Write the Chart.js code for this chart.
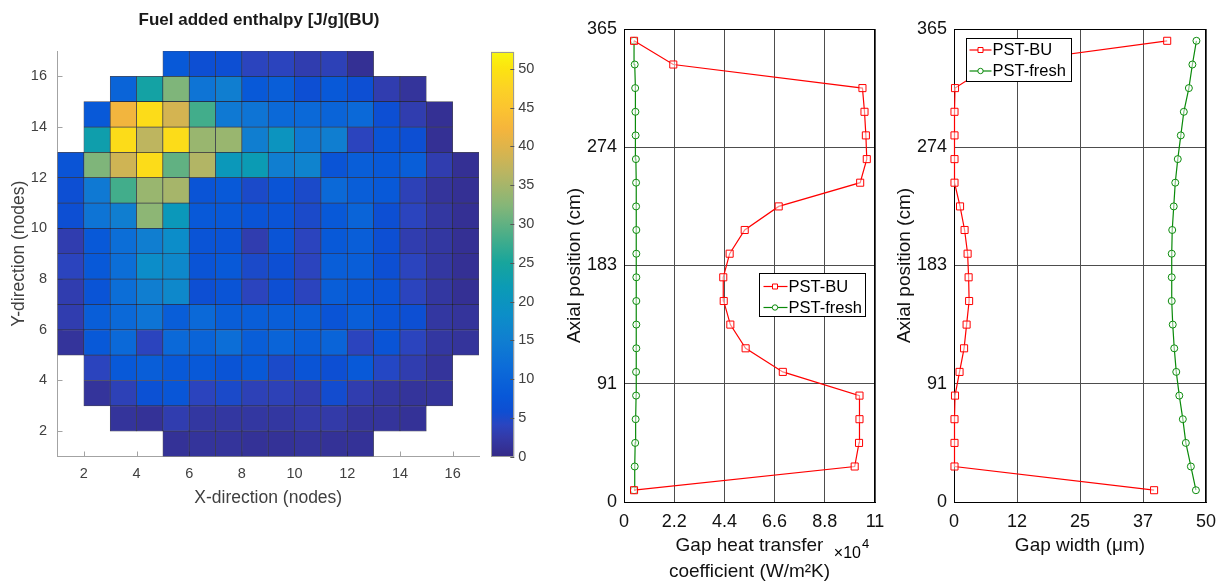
<!DOCTYPE html>
<html><head><meta charset="utf-8">
<script src="https://cdn.jsdelivr.net/npm/chart.js@4/dist/chart.umd.min.js"></script>
<style>
html,body{margin:0;padding:0;background:#fff;width:1226px;height:588px;overflow:hidden;}
canvas{position:absolute;top:0;}
</style></head><body>
<canvas id="heat" width="518" height="588" style="left:0px"></canvas>
<canvas id="cbar" width="65" height="588" style="left:485px"></canvas>
<canvas id="htc" width="340" height="588" style="left:555px"></canvas>
<canvas id="gap" width="341" height="588" style="left:885px"></canvas>
<script>
const FONT = "'Liberation Sans', Arial, Helvetica, sans-serif";

// ---- Heat map: fuel added enthalpy [J/g], rows y=16 (top) .. y=1 (bottom), columns x=1..16
const row16 = [null,null,null,null,8,6,6,4,4,3,3.5,1,null,null,null,null];
const row15 = [null,null,10,24,32,13,15,8,9,6,8,6,3,1.5,null,null];
const row14 = [null,8,42,49,39,28,14,13,11,11,10,11,6,3,1,null];
const row13 = [null,23,49,37,49,34,34,15,20,14,15,4,7,6,1,null];
const row12 = [7,32,38.5,49,30,36,21,22,15,16,7,9,8,9,3,1];
const row11 = [6,14,28,34,35,7,8,5,7,5,11,9,8,3.5,1.5,1];
const row10 = [6,13,15,33,21,8,8,7,7,5,8,10,6,4,2,1];
const row9  = [3,8,12,15,18,7,7,3,7,4,8,9,6,3,2,1];
const row8  = [4,8,12,18,17,7,8,5,6,4,9,9,6,4,2,1];
const row7  = [3,7,12,15,17,6,7,4,6,4,9,8,7,4,2,1];
const row6  = [3,9,11,13,9,11,9,9,9,9,7,9,7,6,2,1.5];
const row5  = [1.5,8,11,4,11,10,12,9,10,9,10,4,7,4,2,1.5];
const row4  = [null,4,8,9,8,8,7,8,5,7,6,8,4.5,3,1.5,null];
const row3  = [null,1.5,3.5,6.5,7.5,4,5,3.5,3.5,3,5.5,3,2,1.5,1.5,null];
const row2  = [null,null,1.5,1.2,3,2,2,2,2,2.5,2.5,1.5,1.5,1.2,null,null];
const row1  = [null,null,null,null,1.2,1.5,1.5,1.2,1.2,1.5,1.2,1.2,null,null,null,null];
const heatRows = [row16,row15,row14,row13,row12,row11,row10,row9,row8,row7,row6,row5,row4,row3,row2,row1];
const heatRowY = [16,15,14,13,12,11,10,9,8,7,6,5,4,3,2,1];
const heatTicks = [2,4,6,8,10,12,14,16];
const cbTicks = [0,5,10,15,20,25,30,35,40,45,50];
const cbRange = [0, 52.2];

// ---- Axial profiles (20 axial nodes)
const axialPos = [9.1,27.4,45.6,63.9,82.1,100.4,118.6,136.9,155.1,173.4,191.6,209.9,228.1,246.4,264.6,282.9,301.1,319.4,337.6,355.9];
const htcBU    = [0.44,10.11,10.30,10.32,10.32,6.96,5.33,4.66,4.37,4.35,4.63,5.29,6.78,10.35,10.64,10.60,10.54,10.45,2.16,0.44];
const htcFresh = [0.44,0.47,0.49,0.51,0.53,0.53,0.54,0.54,0.54,0.54,0.54,0.54,0.53,0.53,0.52,0.51,0.50,0.49,0.47,0.44];
const gapBU    = [39.7,0.1,0.1,0.1,0.2,1.1,2.0,2.5,3.0,2.9,2.7,2.1,1.2,0.1,0.1,0.1,0.1,0.2,7.5,42.3];
const gapFresh = [48.0,47.0,46.0,45.4,44.7,44.1,43.7,43.4,43.2,43.2,43.2,43.3,43.6,43.9,44.4,45.0,45.6,46.6,47.3,48.1];
const axialTicks = [0,91.25,182.5,273.75,365];
const axialTickLabels = ['0','91','183','274','365'];
const htcTicks = [0,2.2,4.4,6.6,8.8,11];
const htcTickLabels = ['0','2.2','4.4','6.6','8.8','11'];
const gapTicks = [0,12.5,25,37.5,50];
const gapTickLabels = ['0','12','25','37','50'];

// ---- parula-like colormap (matched to the reference colour bar)
const parulaStops = [
 [0.000,'#352a87'],[0.048,'#333aa8'],[0.079,'#2a45c0'],[0.111,'#0e4ed2'],[0.150,'#0858d8'],
 [0.222,'#0c6cd8'],[0.290,'#107fd0'],[0.350,'#0c8ec8'],[0.420,'#0b9bb5'],[0.480,'#18a59c'],
 [0.540,'#45ad8a'],[0.620,'#85b678'],[0.700,'#b9b562'],[0.760,'#dcb44c'],[0.810,'#f5b53c'],
 [0.860,'#fbc430'],[0.910,'#fcd225'],[0.960,'#fce410'],[1.000,'#f9f80e']
];
function hexRgb(h){return [parseInt(h.slice(1,3),16),parseInt(h.slice(3,5),16),parseInt(h.slice(5,7),16)];}
function parula(t){
  t = Math.max(0, Math.min(1, t));
  for (let i = 1; i < parulaStops.length; i++) {
    if (t <= parulaStops[i][0]) {
      const [t0,c0] = parulaStops[i-1], [t1,c1] = parulaStops[i];
      const f = (t - t0) / (t1 - t0), a = hexRgb(c0), b = hexRgb(c1);
      return 'rgb(' + a.map((v,k)=>Math.round(v + (b[k]-v)*f)).join(',') + ')';
    }
  }
  return parulaStops[parulaStops.length-1][1];
}

// ---- plugins
const heatTickMarks = {
  id: 'heatTickMarks',
  beforeDatasetsDraw(chart) {
    const {ctx, chartArea: a, scales: {x, y}} = chart;
    ctx.save(); ctx.strokeStyle = '#a3a3a3'; ctx.lineWidth = 1; ctx.beginPath();
    heatTicks.forEach(v => { const px = Math.round(x.getPixelForValue(v)) + 0.5; ctx.moveTo(px, a.bottom); ctx.lineTo(px, a.bottom - 5); });
    heatTicks.forEach(v => { const py = Math.round(y.getPixelForValue(v)) + 0.5; ctx.moveTo(a.left, py); ctx.lineTo(a.left + 5, py); });
    ctx.stroke(); ctx.restore();
  }
};
const cbFrame = {
  id: 'cbFrame',
  afterDatasetsDraw(chart) {
    const {ctx, chartArea: a, scales: {y}} = chart;
    ctx.save(); ctx.strokeStyle = '#9a9a9a'; ctx.lineWidth = 1;
    ctx.strokeRect(Math.round(a.left) + 0.5, Math.round(a.top) + 0.5, Math.round(a.right - a.left) - 1, Math.round(a.bottom - a.top) - 1);
    ctx.strokeStyle = '#555'; ctx.beginPath();
    cbTicks.forEach(v => { const py = Math.round(y.getPixelForValue(v)) + 0.5; ctx.moveTo(a.right, py); ctx.lineTo(a.right - 4, py); });
    ctx.stroke(); ctx.restore();
  }
};
const boxFrame = {
  id: 'boxFrame',
  beforeDatasetsDraw(chart) {
    const {ctx, chartArea: a} = chart;
    ctx.save(); ctx.strokeStyle = '#000'; ctx.lineWidth = 1;
    ctx.strokeRect(Math.round(a.left) + 0.5, Math.round(a.top) + 0.5, Math.round(a.right - a.left) - 1, Math.round(a.bottom - a.top));
    ctx.restore();
  }
};
const boxLegend = {
  id: 'boxLegend',
  afterDraw(chart, args, o) {
    const {ctx, chartArea: a} = chart;
    const L = Math.round(a.left + o.dx) + 0.5, T = Math.round(a.top + o.dy) + 0.5;
    ctx.save();
    ctx.fillStyle = '#fff'; ctx.fillRect(L, T, o.w, o.h);
    ctx.strokeStyle = '#000'; ctx.lineWidth = 1; ctx.strokeRect(L, T, o.w, o.h);
    chart.data.datasets.forEach((ds, i) => {
      const cy = T + o.rows[i];
      ctx.strokeStyle = ds.borderColor; ctx.lineWidth = 1.2;
      ctx.beginPath(); ctx.moveTo(L + o.s0, cy); ctx.lineTo(L + o.s1, cy); ctx.stroke();
      ctx.fillStyle = '#fff'; ctx.lineWidth = 1; ctx.beginPath();
      if (ds.pointStyle === 'rect') { ctx.rect(L + o.m - 2.5, cy - 2.5, 5, 5); }
      else { ctx.arc(L + o.m, cy, 2.7, 0, Math.PI * 2); }
      ctx.fill(); ctx.stroke();
      ctx.fillStyle = '#000'; ctx.font = '16.5px ' + FONT; ctx.textAlign = 'left'; ctx.textBaseline = 'middle';
      ctx.fillText(ds.label, L + o.t, cy + 0.5);
    });
    ctx.restore();
  }
};
const expLabel = {
  id: 'expLabel',
  afterDraw(chart) {
    const {ctx, chartArea: a} = chart;
    ctx.save(); ctx.fillStyle = '#000'; ctx.textBaseline = 'alphabetic';
    ctx.font = '16px ' + FONT; ctx.textAlign = 'right'; ctx.fillText('\u00d710', a.right - 14, a.bottom + 56);
    ctx.font = '13px ' + FONT; ctx.textAlign = 'left'; ctx.fillText('4', a.right - 13, a.bottom + 46);
    ctx.restore();
  }
};

// ---- Heat map chart
const heatData = [];
heatRows.forEach((row, k) => row.forEach((v, i) => {
  if (v !== null) heatData.push({x: i + 1.5, y: [heatRowY[k], heatRowY[k] + 1], v: v});
}));
new Chart(document.getElementById('heat'), {
  type: 'bar',
  data: { datasets: [{
    data: heatData,
    backgroundColor: heatData.map(d => parula(d.v / cbRange[1])),
    borderColor: 'rgba(10,10,30,0.75)', borderWidth: 0.7, borderSkipped: false,
    barPercentage: 1, categoryPercentage: 1, grouped: false
  }]},
  options: {
    responsive: false, animation: false, events: [],
    layout: { padding: 0 },
    plugins: {
      legend: {display: false}, tooltip: {enabled: false},
      title: { display: true, text: 'Fuel added enthalpy [J/g](BU)', color: '#1a1a1a',
        font: {family: FONT, size: 17, weight: 'bold', lineHeight: 1.2}, padding: {top: 10.6, bottom: 20} }
    },
    scales: {
      x: { type: 'linear', offset: false, min: 1, max: 17,
        afterBuildTicks: s => { s.ticks = heatTicks.map(v => ({value: v})); },
        afterFit: s => { s.height = 131.5; },
        grid: {display: false, drawTicks: false}, border: {display: true, color: '#a3a3a3'},
        ticks: {color: '#404040', font: {family: FONT, size: 14.5}, padding: 8.5, maxRotation: 0, autoSkip: false},
        title: {display: true, text: 'X-direction (nodes)', color: '#404040', font: {family: FONT, size: 17.5, lineHeight: 1.2}, padding: {top: 0, bottom: 79}} },
      y: { type: 'linear', min: 1, max: 17,
        afterBuildTicks: s => { s.ticks = heatTicks.map(v => ({value: v})); },
        afterFit: s => { s.width = 57.5; },
        grid: {display: false, drawTicks: false}, border: {display: true, color: '#a3a3a3'},
        ticks: {color: '#404040', font: {family: FONT, size: 14.5}, padding: 10.5, autoSkip: false},
        title: {display: true, text: 'Y-direction (nodes)', color: '#404040', font: {family: FONT, size: 17.5, lineHeight: 1.2}, padding: {top: 8.3, bottom: 0}} },
      y2: { type: 'linear', position: 'right', display: true, grid: {display: false, drawTicks: false}, border: {display: false},
        ticks: {display: false}, afterFit: s => { s.width = 39; } }
    }
  },
  plugins: [heatTickMarks]
});

// ---- Colour bar
new Chart(document.getElementById('cbar'), {
  type: 'bar',
  data: { labels: [''], datasets: [{
    data: [cbRange],
    backgroundColor: c => {
      const ch = c.chart, a = ch.chartArea;
      if (!a) return parulaStops[0][1];
      const ys = ch.scales.y;
      const g = ch.ctx.createLinearGradient(0, ys.getPixelForValue(cbRange[0]), 0, ys.getPixelForValue(cbRange[1]));
      parulaStops.forEach(([t, col]) => g.addColorStop(t, col));
      return g;
    },
    borderWidth: 0, barPercentage: 1, categoryPercentage: 1
  }]},
  options: {
    responsive: false, animation: false, events: [],
    layout: { padding: {left: 6, right: 0, top: 51.7, bottom: 131.3} },
    plugins: {legend: {display: false}, tooltip: {enabled: false}},
    scales: {
      x: {display: false},
      y: { position: 'right', min: cbRange[0], max: cbRange[1],
        afterBuildTicks: s => { s.ticks = cbTicks.map(v => ({value: v})); },
        afterFit: s => { s.width = 35.7; },
        grid: {display: false, drawTicks: false}, border: {display: false},
        ticks: {color: '#404040', font: {family: FONT, size: 14.5}, padding: 4, autoSkip: false} }
    }
  },
  plugins: [cbFrame]
});

// ---- Axial line charts
function lineChart(id, cfg) {
  return new Chart(document.getElementById(id), {
    type: 'scatter',
    data: { datasets: [
      { label: 'PST-BU', data: axialPos.map((y, i) => ({x: cfg.bu[i], y: y})), showLine: true,
        borderColor: '#ff0000', backgroundColor: 'rgba(0,0,0,0)', borderWidth: 1.2,
        pointStyle: 'rect', pointRadius: 5, pointBorderWidth: 1, pointBorderColor: '#ff0000',
        pointBackgroundColor: 'rgba(255,255,255,0.5)', clip: false },
      { label: 'PST-fresh', data: axialPos.map((y, i) => ({x: cfg.fresh[i], y: y})), showLine: true,
        borderColor: '#0a8a0a', backgroundColor: 'rgba(0,0,0,0)', borderWidth: 1.2,
        pointStyle: 'circle', pointRadius: 3.5, pointBorderWidth: 1, pointBorderColor: '#0a8a0a',
        pointBackgroundColor: 'rgba(255,255,255,0.5)', clip: false }
    ]},
    options: {
      responsive: false, animation: false, events: [],
      layout: { padding: {left: 0, right: 20, top: 29, bottom: 0} },
      plugins: { legend: {display: false}, tooltip: {enabled: false}, title: {display: false}, boxLegend: cfg.legend },
      scales: {
        x: { type: 'linear', min: 0, max: cfg.xMax,
          afterBuildTicks: s => { s.ticks = cfg.xTicks.map(v => ({value: v})); },
          afterFit: s => { s.height = 86; },
          grid: {color: '#4d4d4d', lineWidth: 1, drawTicks: false}, border: {display: true, color: '#000'},
          ticks: {color: '#111', font: {family: FONT, size: 18}, padding: 8.8, maxRotation: 0, autoSkip: false,
            callback: (v, i) => cfg.xLabels[i]},
          title: {display: true, text: cfg.xTitle, color: '#111', font: {family: FONT, size: 19, lineHeight: 26/19},
            padding: {top: 0, bottom: cfg.xTitlePad}} },
        y: { type: 'linear', min: 0, max: 365,
          afterBuildTicks: s => { s.ticks = axialTicks.map(v => ({value: v})); },
          afterFit: s => { s.width = 69; },
          grid: {color: '#4d4d4d', lineWidth: 1, drawTicks: false}, border: {display: true, color: '#000'},
          ticks: {color: '#111', font: {family: FONT, size: 18}, padding: 7, autoSkip: false,
            callback: (v, i) => axialTickLabels[i]},
          title: {display: true, text: 'Axial position (cm)', color: '#111', font: {family: FONT, size: 19, lineHeight: 1.2},
            padding: {top: 8.6, bottom: 0}} }
      }
    },
    plugins: cfg.extra
  });
}

lineChart('htc', {
  bu: htcBU, fresh: htcFresh, xMax: 11, xTicks: htcTicks, xLabels: htcTickLabels,
  xTitle: ['Gap heat transfer', 'coefficient (W/m\u00b2K)'], xTitlePad: 3,
  legend: {dx: 135, dy: 243.7, w: 106, h: 43, s0: 4, s1: 28, m: 15.5, t: 29, rows: [13, 34]},
  extra: [boxFrame, boxLegend, expLabel]
});
lineChart('gap', {
  bu: gapBU, fresh: gapFresh, xMax: 50, xTicks: gapTicks, xLabels: gapTickLabels,
  xTitle: 'Gap width (\u03bcm)', xTitlePad: 29,
  legend: {dx: 12, dy: 8.7, w: 105, h: 43, s0: 3, s1: 25, m: 14, t: 26, rows: [11.5, 32.5]},
  extra: [boxFrame, boxLegend]
});
</script>
</body></html>
